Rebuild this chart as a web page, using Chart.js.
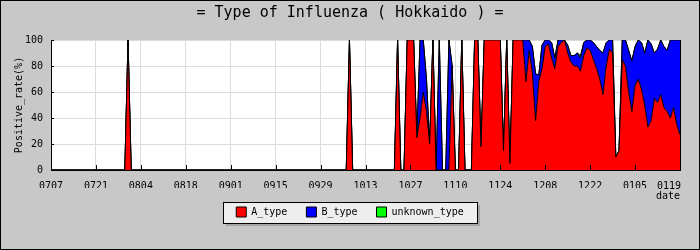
<!DOCTYPE html>
<html>
<head>
<meta charset="utf-8">
<title>Type of Influenza ( Hokkaido )</title>
<script src="https://cdn.jsdelivr.net/npm/chart.js@4.4.1/dist/chart.umd.min.js"></script>
<style>
  html, body { margin: 0; padding: 0; background: #c8c8c8; }
  #fluChart { display: block; }
</style>
</head>
<body>
<canvas id="fluChart" width="700" height="250"></canvas>
<script>
// x axis labels, one every 14 days (day 0 = 07/07)
const tickLabels = ['0707', '0721', '0804', '0818', '0901', '0915', '0929',
                    '1013', '1027', '1110', '1124', '1208', '1222', '0105', '0119'];

// daily positive rate (%), one row = 14 days, last value = 01/19
const aType = [
  0, 0, 0, 0, 0, 0, 0, 0, 0, 0, 0, 0, 0, 0,
  0, 0, 0, 0, 0, 0, 0, 0, 0, 0, 100, 0, 0, 0,
  0, 0, 0, 0, 0, 0, 0, 0, 0, 0, 0, 0, 0, 0,
  0, 0, 0, 0, 0, 0, 0, 0, 0, 0, 0, 0, 0, 0,
  0, 0, 0, 0, 0, 0, 0, 0, 0, 0, 0, 0, 0, 0,
  0, 0, 0, 0, 0, 0, 0, 0, 0, 0, 0, 0, 0, 0,
  0, 0, 0, 0, 0, 0, 0, 0, 0, 100, 0, 0, 0, 0,
  0, 0, 0, 0, 0, 0, 0, 0, 0, 0, 100, 0, 0, 100,
  100, 100, 25, 40, 60, 45, 20, 100, 0, 0, 0, 0, 0, 80,
  0, 0, 100, 0, 0, 0, 100, 100, 18, 100, 100, 100, 100, 100,
  100, 15, 100, 5, 100, 100, 100, 100, 68, 92, 75, 38, 68, 78,
  95, 97, 86, 78, 95, 98, 100, 90, 83, 80, 80, 76, 88, 94,
  92, 85, 78, 70, 58, 80, 93, 90, 10, 15, 85, 80, 60, 45,
  65, 70, 62, 50, 33, 38, 55, 52, 58, 48, 45, 40, 48, 35,
  27
];
const bType = [
  0, 0, 0, 0, 0, 0, 0, 0, 0, 0, 0, 0, 0, 0,
  0, 0, 0, 0, 0, 0, 0, 0, 0, 0, 0, 0, 0, 0,
  0, 0, 0, 0, 0, 0, 0, 0, 0, 0, 0, 0, 0, 0,
  0, 0, 0, 0, 0, 0, 0, 0, 0, 0, 0, 0, 0, 0,
  0, 0, 0, 0, 0, 0, 0, 0, 0, 0, 0, 0, 0, 0,
  0, 0, 0, 0, 0, 0, 0, 0, 0, 0, 0, 0, 0, 0,
  0, 0, 0, 0, 0, 0, 0, 0, 0, 0, 0, 0, 0, 0,
  0, 0, 0, 0, 0, 0, 0, 0, 0, 0, 0, 0, 0, 0,
  0, 0, 0, 60, 40, 25, 0, 0, 0, 100, 0, 0, 100, 0,
  0, 0, 0, 0, 0, 0, 0, 0, 0, 0, 0, 0, 0, 0,
  0, 0, 0, 0, 0, 0, 0, 0, 32, 8, 20, 36, 5, 18,
  5, 3, 12, 8, 5, 2, 0, 6, 5, 8, 10, 10, 10, 6,
  8, 13, 17, 22, 32, 18, 7, 10, 0, 0, 15, 20, 32, 39,
  30, 30, 36, 40, 67, 59, 35, 41, 42, 47, 47, 60, 52, 65,
  73
];
const unknownType = [
  0, 0, 0, 0, 0, 0, 0, 0, 0, 0, 0, 0, 0, 0,
  0, 0, 0, 0, 0, 0, 0, 0, 0, 0, 0, 0, 0, 0,
  0, 0, 0, 0, 0, 0, 0, 0, 0, 0, 0, 0, 0, 0,
  0, 0, 0, 0, 0, 0, 0, 0, 0, 0, 0, 0, 0, 0,
  0, 0, 0, 0, 0, 0, 0, 0, 0, 0, 0, 0, 0, 0,
  0, 0, 0, 0, 0, 0, 0, 0, 0, 0, 0, 0, 0, 0,
  0, 0, 0, 0, 0, 0, 0, 0, 0, 0, 0, 0, 0, 0,
  0, 0, 0, 0, 0, 0, 0, 0, 0, 0, 0, 0, 0, 0,
  0, 0, 0, 0, 0, 0, 0, 0, 0, 0, 0, 0, 0, 0,
  0, 0, 0, 0, 0, 0, 0, 0, 0, 0, 0, 0, 0, 0,
  0, 0, 0, 0, 0, 0, 0, 0, 0, 0, 0, 0, 0, 0,
  0, 0, 0, 0, 0, 0, 0, 0, 0, 0, 0, 2, 0, 0,
  0, 0, 0, 0, 0, 0, 0, 0, 0, 0, 0, 0, 0, 0,
  0, 0, 0, 0, 0, 0, 0, 0, 0, 0, 0, 0, 0, 0,
  0
];

const FONT = 'DejaVu Sans Mono';
Chart.defaults.font.family = FONT;
Chart.defaults.font.size = 10;
Chart.defaults.color = '#000';

// day index -> point
function toPoints(values) {
  return values.map((v, i) => ({ x: i, y: v }));
}

// gray background, white plot area, legend frame, inner tick marks, outer border
const frame = {
  id: 'frame',
  beforeDraw(chart) {
    const { ctx, chartArea: a, width, height } = chart;
    ctx.save();
    ctx.fillStyle = '#c8c8c8';
    ctx.fillRect(0, 0, width, height);
    ctx.fillStyle = '#ffffff';
    ctx.fillRect(a.left, a.top, a.right - a.left, a.bottom - a.top);

    const boxes = chart.legend && chart.legend.legendHitBoxes;
    if (boxes && boxes.length) {
      const first = boxes[0];
      const last = boxes[boxes.length - 1];
      const x0 = Math.round(first.left - 13.5);
      const x1 = Math.round(last.left + last.width + 13.5);
      const y0 = Math.round(first.top - 5);
      const y1 = Math.round(first.top + first.height + 6);
      ctx.fillStyle = '#a4a4a4'; // shadow
      ctx.fillRect(x0 + 3, y0 + 3, x1 - x0, y1 - y0);
      ctx.fillStyle = '#eeeeee';
      ctx.fillRect(x0, y0, x1 - x0, y1 - y0);
      ctx.strokeStyle = '#000';
      ctx.lineWidth = 1;
      ctx.strokeRect(x0 + 0.5, y0 + 0.5, x1 - x0, y1 - y0);
    }
    ctx.restore();
  },
  afterDatasetsDraw(chart) {
    const { ctx, chartArea: a } = chart;
    const xs = chart.scales.x;
    const ys = chart.scales.y;
    ctx.save();
    ctx.strokeStyle = '#000';
    ctx.lineWidth = 1;
    ctx.beginPath();
    xs.ticks.forEach(t => {
      const x = Math.round(xs.getPixelForValue(t.value)) + 0.5;
      ctx.moveTo(x, a.bottom);
      ctx.lineTo(x, a.bottom - 5);
    });
    ys.ticks.forEach(t => {
      const y = Math.round(ys.getPixelForValue(t.value)) + 0.5;
      ctx.moveTo(a.left, y);
      ctx.lineTo(a.left + 3, y);
    });
    // closing edge of the filled areas on the right
    ctx.moveTo(Math.round(a.right) + 0.5, a.top);
    ctx.lineTo(Math.round(a.right) + 0.5, a.bottom);
    ctx.stroke();
    ctx.restore();
  },
  afterDraw(chart) {
    const { ctx, chartArea: a, width, height } = chart;
    ctx.save();
    // last date label sits flush with the right end of the axis
    ctx.font = '10px "' + FONT + '"';
    ctx.fillStyle = '#000';
    ctx.textAlign = 'right';
    ctx.textBaseline = 'alphabetic';
    ctx.fillText(tickLabels[tickLabels.length - 1], a.right + 1, a.bottom + 19);

    ctx.strokeStyle = '#000';
    ctx.lineWidth = 1;
    ctx.strokeRect(0.5, 0.5, width - 1, height - 1);
    ctx.restore();
  }
};

function makeSet(label, values, color, fill) {
  return {
    label: label,
    data: toPoints(values),
    backgroundColor: color,
    borderColor: '#000',
    borderWidth: 1,
    pointRadius: 0,
    tension: 0,
    fill: fill
  };
}

const ctx = document.getElementById('fluChart').getContext('2d');
const chartInstance = new Chart(ctx, {
  type: 'line',
  data: {
    datasets: [
      makeSet('A_type', aType, '#ff0000', 'origin'),
      makeSet('B_type', bType, '#0000ff', '-1'),
      makeSet('unknown_type', unknownType, '#00ff00', '-1')
    ]
  },
  options: {
    responsive: false,
    animation: false,
    devicePixelRatio: 1,
    layout: { padding: { top: 4, left: 20, right: 20, bottom: 23 } },
    plugins: {
      title: {
        display: true,
        text: '= Type of Influenza ( Hokkaido ) =',
        color: '#000',
        font: { family: FONT, size: 15, weight: 'normal' },
        padding: { top: 0, bottom: 18 }
      },
      legend: {
        position: 'bottom',
        labels: {
          boxWidth: 10,
          boxHeight: 10,
          padding: 19,
          color: '#000',
          font: { family: FONT, size: 10 }
        }
      },
      tooltip: { enabled: false }
    },
    scales: {
      x: {
        type: 'linear',
        min: 0,
        max: 196,
        afterFit: scale => { scale.height = 18; },
        ticks: {
          stepSize: 14,
          padding: 10,
          maxRotation: 0,
          autoSkip: false,
          // the last label is drawn by the frame plugin
          callback: (v, i, all) => (i === all.length - 1 ? '' : tickLabels[Math.round(v / 14)])
        },
        grid: { color: '#dcdcdc', lineWidth: 1, drawTicks: false },
        border: { color: '#000', width: 1 },
        title: {
          display: true,
          text: 'date',
          align: 'end',
          padding: { top: 0, bottom: -14 }
        }
      },
      y: {
        stacked: true,
        min: 0,
        max: 100,
        afterFit: scale => { scale.width = 31; },
        ticks: {
          stepSize: 10,
          padding: 8,
          callback: v => (v % 20 === 0 ? v : '')
        },
        grid: {
          color: c => (c.tick && c.tick.value % 20 === 0 ? '#dcdcdc' : 'rgba(0,0,0,0)'),
          lineWidth: 1,
          drawTicks: false
        },
        border: { color: '#000', width: 1 },
        title: {
          display: true,
          text: 'Positive_rate(%)',
          padding: { top: -7, bottom: 0 }
        }
      }
    }
  },
  plugins: [frame]
});
</script>
</body>
</html>
